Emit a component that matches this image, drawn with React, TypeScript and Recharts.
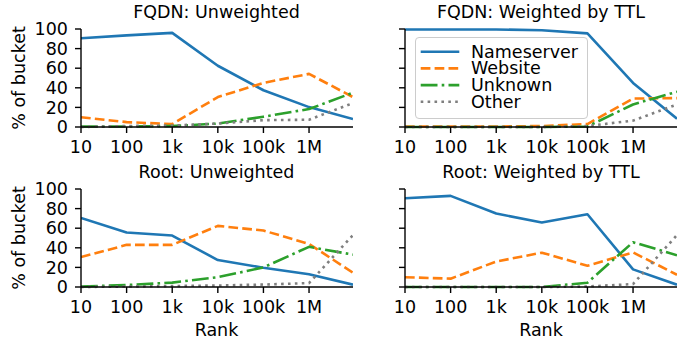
import { LineChart, Line, XAxis, YAxis, Legend } from "recharts";

const ranks = [10, 100, 1000, 10000, 100000, 1000000, 9200000];
const rankTicks = [10, 100, 1000, 10000, 100000, 1000000];
const rankTickLabels = ["10", "100", "1k", "10k", "100k", "1M"];
const pctTicks = [0, 20, 40, 60, 80, 100];

// FQDN: Unweighted
const fqdnUnwNameserver = [90.5, 93.5, 96, 62.5, 37.5, 20.3, 8.1];
const fqdnUnwWebsite = [10, 5, 3, 30.5, 45, 54.2, 30.5];
const fqdnUnwUnknown = [0.5, 0.5, 1, 3.5, 10.5, 18.3, 35];
const fqdnUnwOther = [0, 1, 1.5, 3.5, 7, 7.4, 24.4];

// FQDN: Weighted by TTL
const fqdnTtlNameserver = [99.5, 99.5, 99.5, 98.8, 95.5, 45, 8.4];
const fqdnTtlWebsite = [0.5, 0.5, 0.5, 1, 3, 29, 29.5];
const fqdnTtlUnknown = [0, 0, 0, 0, 0.5, 23, 36];
const fqdnTtlOther = [0, 0, 0, 0, 1, 6.5, 23];

// Root: Unweighted
const rootUnwNameserver = [70.5, 55.6, 52.5, 27.5, 19.7, 13, 2.4];
const rootUnwWebsite = [30.5, 43, 43, 62.4, 57.6, 44, 14.5];
const rootUnwUnknown = [0.5, 2, 4.5, 10, 20, 41, 33];
const rootUnwOther = [0, 0.5, 1, 1.5, 2.5, 4, 53];

// Root: Weighted by TTL
const rootTtlNameserver = [90.5, 93, 75, 65.8, 74.2, 18, 2.4];
const rootTtlWebsite = [10, 8.5, 26, 35, 21.7, 35.3, 12.5];
const rootTtlUnknown = [0, 0, 0, 0, 4.4, 45.7, 32.4];
const rootTtlOther = [0, 0, 0, 0, 0.5, 3, 53];

const FONT = "DejaVu Sans";
const FS = 17.5;

const series = [
  { key: "nameserver", name: "Nameserver", color: "#1f77b4", dash: undefined },
  { key: "website", name: "Website", color: "#ff7f0e", dash: "9.7 4.2" },
  { key: "unknown", name: "Unknown", color: "#2ca02c", dash: "16.8 4.2 2.6 4.2" },
  { key: "other", name: "Other", color: "#7f7f7f", dash: "2.6 4.3" },
];

const toRows = (ns: number[], web: number[], unk: number[], oth: number[]) =>
  ranks.map((rank, i) => ({
    rank,
    nameserver: ns[i],
    website: web[i],
    unknown: unk[i],
    other: oth[i],
  }));

const panels = [
  {
    title: "FQDN: Unweighted",
    data: toRows(fqdnUnwNameserver, fqdnUnwWebsite, fqdnUnwUnknown, fqdnUnwOther),
    left: 0,
    top: 0,
    yLabels: true,
    legend: false,
  },
  {
    title: "FQDN: Weighted by TTL",
    data: toRows(fqdnTtlNameserver, fqdnTtlWebsite, fqdnTtlUnknown, fqdnTtlOther),
    left: 344,
    top: 0,
    yLabels: false,
    legend: true,
  },
  {
    title: "Root: Unweighted",
    data: toRows(rootUnwNameserver, rootUnwWebsite, rootUnwUnknown, rootUnwOther),
    left: 0,
    top: 160,
    yLabels: true,
    legend: false,
  },
  {
    title: "Root: Weighted by TTL",
    data: toRows(rootTtlNameserver, rootTtlWebsite, rootTtlUnknown, rootTtlOther),
    left: 344,
    top: 160,
    yLabels: false,
    legend: false,
  },
];

const tickStyle = { fontSize: FS, fill: "#000", fontFamily: FONT };

const renderLegend = () => (
  <div
    style={{
      width: 173,
      height: 82,
      boxSizing: "border-box",
      border: "1px solid #cccccc",
      borderRadius: 4,
      background: "rgba(255,255,255,0.8)",
    }}
  >
    <svg width={171} height={80} style={{ display: "block" }}>
      {series.map((s, i) => (
        <g key={s.key}>
          <line
            x1={4.7}
            x2={43.3}
            y1={13.7 + i * 16.7}
            y2={13.7 + i * 16.7}
            stroke={s.color}
            strokeWidth={2.6}
            strokeDasharray={s.dash}
          />
          <text
            x={55}
            y={19.7 + i * 16.7}
            fontSize={FS}
            fontFamily={FONT}
            fill="#000"
          >
            {s.name}
          </text>
        </g>
      ))}
    </svg>
  </div>
);

const Panel = ({ p }: any) => {
  const yw = p.yLabels ? 81 : 61;
  return (
    <div style={{ position: "absolute", left: p.left, top: p.top }}>
      <LineChart
        width={yw + 272 + 8}
        height={167}
        data={p.data}
        margin={{ top: 29, right: 8, left: 0, bottom: 0 }}
      >
        <XAxis
          dataKey="rank"
          type="number"
          scale="log"
          domain={[10, 9200000]}
          allowDataOverflow
          ticks={rankTicks}
          interval={0}
          tickFormatter={(v: number) => rankTickLabels[rankTicks.indexOf(v)] ?? ""}
          tick={tickStyle}
          tickSize={6}
          tickMargin={8}
          height={40}
          axisLine={{ stroke: "#000", strokeWidth: 1.4 }}
          tickLine={{ stroke: "#000", strokeWidth: 1.4 }}
        />
        <XAxis
          xAxisId="top"
          orientation="top"
          dataKey="rank"
          type="number"
          scale="log"
          domain={[10, 9200000]}
          allowDataOverflow
          ticks={[]}
          tick={false}
          tickLine={false}
          height={0}
          axisLine={{ stroke: "#000", strokeWidth: 1.4 }}
        />
        <YAxis
          type="number"
          domain={[0, 100]}
          ticks={pctTicks}
          interval={0}
          width={yw}
          tickFormatter={(v: number) => (p.yLabels ? String(v) : "")}
          tick={tickStyle}
          tickSize={6}
          tickMargin={7}
          axisLine={{ stroke: "#000", strokeWidth: 1.4 }}
          tickLine={{ stroke: "#000", strokeWidth: 1.4 }}
        />
        <YAxis
          yAxisId="right"
          orientation="right"
          type="number"
          domain={[0, 100]}
          width={0}
          tick={false}
          tickLine={false}
          axisLine={{ stroke: "#000", strokeWidth: 1.4 }}
        />
        {series.map((s) => (
          <Line
            key={s.key}
            dataKey={s.key}
            name={s.name}
            stroke={s.color}
            strokeWidth={2.6}
            strokeDasharray={s.dash}
            strokeLinejoin="round"
            dot={false}
            activeDot={false}
            isAnimationActive={false}
          />
        ))}
        {p.legend && (
          <Legend
            layout="horizontal"
            verticalAlign="middle"
            align="center"
            wrapperStyle={{ left: 71, top: 37, width: 173, height: 82 }}
            content={renderLegend}
          />
        )}
      </LineChart>
    </div>
  );
};

export default function App() {
  return (
    <div
      style={{
        position: "absolute",
        left: 0,
        top: 0,
        width: 688,
        height: 345,
        background: "#fff",
      }}
    >
      {panels.map((p) => (
        <Panel key={p.title} p={p} />
      ))}
      <svg
        width={688}
        height={345}
        style={{ position: "absolute", left: 0, top: 0, pointerEvents: "none" }}
        fontFamily={FONT}
        fontSize={FS}
      >
        {panels.map((p) => {
          const cx = p.left === 0 ? 216.5 : 541;
          return (
            <text key={p.title} x={cx} y={p.top + 18} textAnchor="middle" fill="#000">
              {p.title}
            </text>
          );
        })}
        <text x={25} y={78} transform="rotate(-90 25 78)" textAnchor="middle" fill="#000">
          % of bucket
        </text>
        <text x={25} y={238} transform="rotate(-90 25 238)" textAnchor="middle" fill="#000">
          % of bucket
        </text>
        <text x={216.5} y={336} textAnchor="middle" fill="#000">
          Rank
        </text>
        <text x={541} y={336} textAnchor="middle" fill="#000">
          Rank
        </text>
      </svg>
    </div>
  );
}
